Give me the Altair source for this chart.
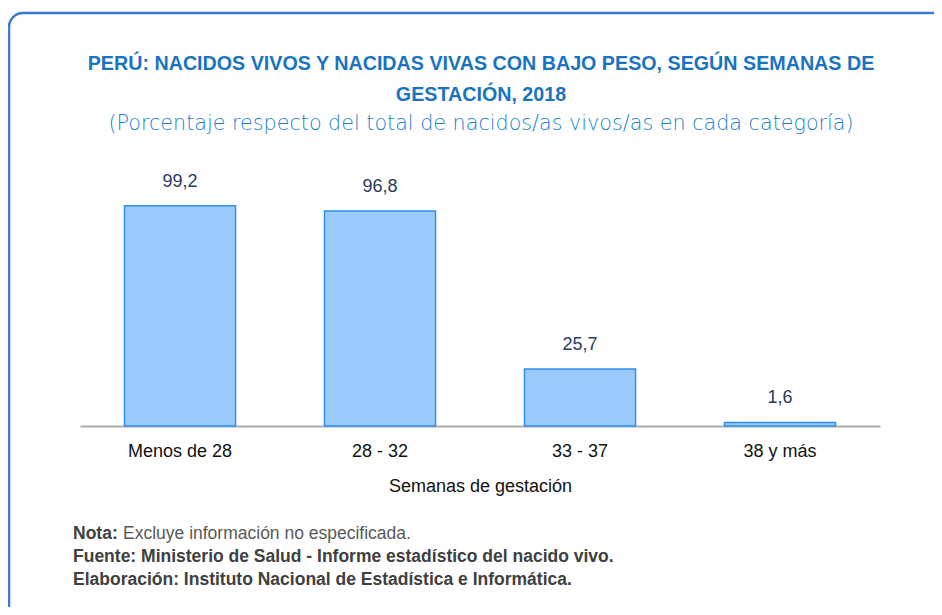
import altair as alt
import pandas as pd

# ---- data ----
categorias = ["Menos de 28", "28 - 32", "33 - 37", "38 y más"]
valores = [99.2, 96.8, 25.7, 1.6]

titulo_1 = "PERÚ: NACIDOS VIVOS Y NACIDAS VIVAS CON BAJO PESO, SEGÚN SEMANAS DE"
titulo_2 = "GESTACIÓN, 2018"
subtitulo = "(Porcentaje respecto del total de nacidos/as vivos/as en cada categoría)"
eje_x = "Semanas de gestación"
nota_b = "Nota:"
nota_t = "Excluye información no especificada."
fuente = "Fuente: Ministerio de Salud - Informe estadístico del nacido vivo."
elaboracion = "Elaboración: Instituto Nacional de Estadística e Informática."

df = pd.DataFrame({
    "cat": categorias,
    "val": valores,
    "lab": [f"{v:.1f}".replace(".", ",") for v in valores],
})

W, H = 800, 222
PL, PT, PR, PB = 72, 196, 54, 181
FONT = "Liberation Sans"

x_enc = alt.X("cat:N", sort=categorias,
              scale=alt.Scale(paddingInner=0.445, paddingOuter=0.2225),
              axis=alt.Axis(title=eje_x, labelAngle=0, ticks=False,
                            domainColor="#ababab", domainWidth=2,
                            labelFont=FONT, labelFontSize=18, labelColor="#111111",
                            labelPadding=16,
                            titleFont=FONT, titleFontSize=18, titleFontWeight="normal",
                            titleColor="#111111", titlePadding=17))
y_enc = alt.Y("val:Q", scale=alt.Scale(domain=[0, 100]), axis=None)

bars = alt.Chart(df).mark_bar(fill="#9bcbfd", stroke="#2f8fef", strokeWidth=1.5).encode(
    x=x_enc, y=y_enc)

labels = alt.Chart(df).mark_text(font=FONT, fontSize=18, color="#2a3a5e",
                                 baseline="alphabetic", dy=-19).encode(
    x=alt.X("cat:N", sort=categorias), y=y_enc, text="lab:N")


def text_item(txt, x, y, size, bold, color, align="left", font=FONT, weight=None):
    w = weight if weight is not None else ("bold" if bold else "normal")
    return alt.Chart(pd.DataFrame({"t": [txt]})).mark_text(
        font=font, fontSize=size, fontWeight=w,
        color=color, align=align, baseline="alphabetic").encode(
        text="t:N", x=alt.value(x), y=alt.value(y))


t1 = text_item(titulo_1, W / 2 + 1, -134, 19.7, True, "#1a73bf", align="center")
t2 = text_item(titulo_2, W / 2 + 1, -103, 19.7, True, "#1a73bf", align="center")
t3 = text_item(subtitulo, W / 2 + 1, -74, 20.7, False, "#1b7fd0", align="center",
               font="DejaVu Sans", weight=200)

n1 = text_item(nota_b, -7, 335, 17.5, True, "#404040")
n2 = text_item(nota_t, 43, 335, 17.5, False, "#595959")
n3 = text_item(fuente, -7, 358, 17.5, True, "#404040")
n4 = text_item(elaboracion, -7, 381, 17.5, True, "#404040")

border = alt.Chart(pd.DataFrame({"b": [0]})).mark_rect(
    fill="transparent", stroke="#3a7bcf", strokeWidth=2.5, cornerRadius=14).encode(
    x=alt.value(-71), x2=alt.value(W + PR + 30),
    y=alt.value(-191), y2=alt.value(H + PB + 30))

chart = alt.layer(border, bars, labels, t1, t2, t3, n1, n2, n3, n4).properties(
    width=W, height=H,
    background="white",
    padding={"left": PL, "top": PT, "right": PR, "bottom": PB},
    autosize=alt.AutoSizeParams(type="none"),
).configure_view(stroke="transparent", strokeWidth=0)

chart.save("out.html", embed_options={"renderer": "svg", "actions": False})
